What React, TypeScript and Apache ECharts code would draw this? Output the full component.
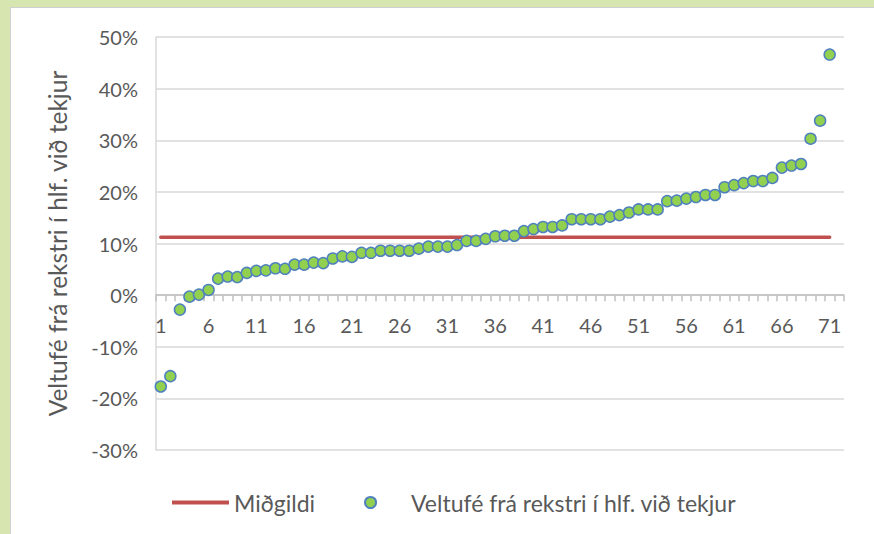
import React, { useEffect, useRef } from "react";
import * as echarts from "echarts";

const CATEGORIES = [
  "1", "2", "3", "4", "5", "6", "7", "8", "9", "10",
  "11", "12", "13", "14", "15", "16", "17", "18", "19", "20",
  "21", "22", "23", "24", "25", "26", "27", "28", "29", "30",
  "31", "32", "33", "34", "35", "36", "37", "38", "39", "40",
  "41", "42", "43", "44", "45", "46", "47", "48", "49", "50",
  "51", "52", "53", "54", "55", "56", "57", "58", "59", "60",
  "61", "62", "63", "64", "65", "66", "67", "68", "69", "70",
  "71", "",
];

const VALUES = [
  -17.7, -15.7, -2.8, -0.3, 0.1, 1.0, 3.2, 3.6, 3.5, 4.3,
  4.7, 4.8, 5.2, 5.1, 5.9, 5.9, 6.3, 6.2, 7.1, 7.5,
  7.4, 8.2, 8.2, 8.6, 8.6, 8.6, 8.6, 9.0, 9.4, 9.4,
  9.4, 9.7, 10.5, 10.5, 10.9, 11.4, 11.5, 11.5, 12.4, 12.8,
  13.2, 13.2, 13.5, 14.7, 14.7, 14.7, 14.7, 15.2, 15.5, 16.0,
  16.6, 16.6, 16.6, 18.2, 18.3, 18.7, 19.0, 19.4, 19.4, 20.9,
  21.3, 21.7, 22.1, 22.1, 22.7, 24.7, 25.1, 25.4, 30.3, 33.8,
  46.6,
];

const MEDIAN = 11.2;
const MEDIAN_LINE = VALUES.map(() => MEDIAN);

const Y_MIN = -30;
const Y_MAX = 50;
const Y_STEP = 10;

const SERIES_MEDIAN = "Miðgildi";
const SERIES_VALUES = "Veltufé frá rekstri í hlf. við tekjur";
const Y_TITLE = "Veltufé frá rekstri í hlf. við tekjur";

const FONT = "Lato, 'Open Sans', sans-serif";
const TEXT = "#595959";

const GRID_TOP = 37;
const GRID_HEIGHT = 413;

export default function App() {
  const ref = useRef<HTMLDivElement>(null);

  useEffect(() => {
    if (!ref.current) return;
    const chart = echarts.init(ref.current, null, { renderer: "svg" });
    // distance from the bottom of the grid to the zero line
    const zeroOffset = (GRID_HEIGHT * (0 - Y_MIN)) / (Y_MAX - Y_MIN);
    chart.setOption({
      animation: false,
      backgroundColor: "transparent",
      textStyle: { fontFamily: FONT },
      grid: { left: 156, top: GRID_TOP, width: 688, height: GRID_HEIGHT },
      legend: {
        left: 167,
        top: 486,
        itemWidth: 57,
        itemHeight: 11,
        itemGap: 49,
        selectedMode: false,
        textStyle: { color: TEXT, fontSize: 23, fontFamily: FONT },
        data: [
          { name: SERIES_MEDIAN, icon: "path://M0,0 L57,0 L57,4 L0,4 Z" },
          {
            name: SERIES_VALUES,
            icon: "circle",
            textStyle: { color: TEXT, fontSize: 23, fontFamily: FONT, padding: [0, 0, 0, 7] },
          },
        ],
      },
      xAxis: {
        type: "category",
        data: CATEGORIES,
        boundaryGap: true,
        offset: -zeroOffset,
        axisLine: { onZero: false, lineStyle: { color: "#bfbfbf", width: 1.5 } },
        axisTick: { show: true, interval: 0, length: 6, lineStyle: { color: "#bfbfbf", width: 1.5 } },
        axisLabel: { interval: 4, margin: 20, color: TEXT, fontSize: 20, fontFamily: FONT },
        splitLine: { show: false },
      },
      yAxis: {
        type: "value",
        min: Y_MIN,
        max: Y_MAX,
        interval: Y_STEP,
        name: Y_TITLE,
        nameLocation: "middle",
        nameGap: 86,
        nameTextStyle: { color: TEXT, fontSize: 24.5, fontFamily: FONT },
        axisLabel: { formatter: "{value}%", color: TEXT, fontSize: 20, margin: 18, fontFamily: FONT },
        axisLine: { show: true, lineStyle: { color: "#d9d9d9", width: 1.5 } },
        axisTick: { show: false },
        splitLine: { lineStyle: { color: "#d9d9d9", width: 1.5 } },
      },
      series: [
        {
          name: SERIES_MEDIAN,
          type: "line",
          data: MEDIAN_LINE,
          symbol: "none",
          lineStyle: { color: "#c0504d", width: 3.5, cap: "round" },
          itemStyle: { color: "#c0504d" },
          z: 2,
        },
        {
          name: SERIES_VALUES,
          type: "scatter",
          data: VALUES,
          symbol: "circle",
          symbolSize: 11,
          itemStyle: { color: "#92d050", borderColor: "#4f81bd", borderWidth: 1.5, opacity: 1 },
          z: 3,
        },
      ],
    });
    return () => chart.dispose();
  }, []);

  return (
    <div style={{ position: "fixed", left: 0, top: 0, width: 874, height: 534, background: "#d7e6b1" }}>
      <div
        style={{
          position: "absolute",
          left: 10,
          top: 7,
          right: 0,
          bottom: 0,
          background: "#ffffff",
          borderLeft: "1px solid #d0d0d0",
          borderTop: "1px solid #d0d0d0",
        }}
      />
      <div ref={ref} style={{ position: "absolute", left: 0, top: 0, width: 874, height: 534 }} />
    </div>
  );
}
